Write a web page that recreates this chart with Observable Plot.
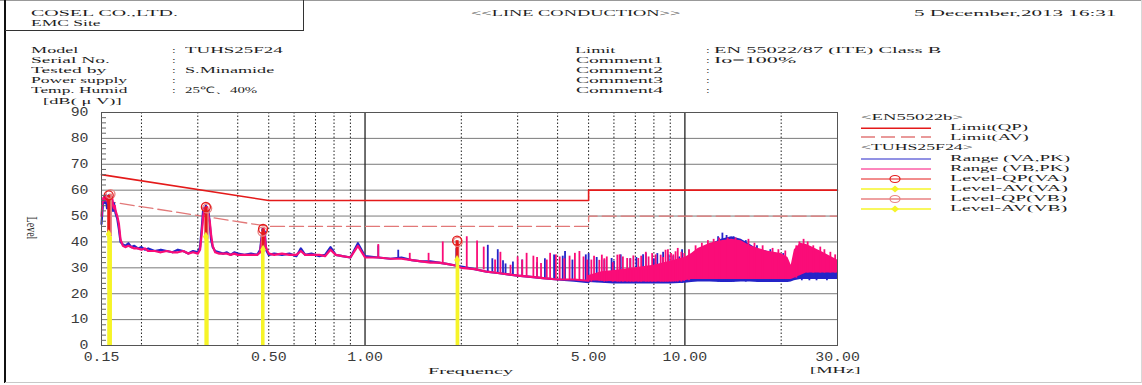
<!DOCTYPE html>
<html><head><meta charset="utf-8">
<script src="https://cdn.jsdelivr.net/npm/d3@7"></script>
<script src="https://cdn.jsdelivr.net/npm/@observablehq/plot@0.6"></script>
<style>
html,body{margin:0;padding:0;background:#fff;}
#page{position:relative;width:1142px;height:385px;overflow:hidden;background:#fff;}
#chart{position:absolute;left:0;top:0;}
.t{position:absolute;font-family:"Liberation Serif",serif;font-size:8.9px;line-height:8px;white-space:pre;color:#1e1e1e;transform-origin:0 0;}
#over{position:absolute;left:0;top:0;pointer-events:none;}
</style></head><body>
<div id="page"><div id="chart"></div></div>
<script>
// ---------- header / legend text ----------
const companyLines = ["COSEL CO.,LTD.", "EMC Site"];
const reportTitle = "<<LINE CONDUCTION>>";
const reportDate = "5 December,2013 16:31";
const metaLabels = ["Model", "Serial No.", "Tested by", "Power supply", "Temp. Humid"];
const metaValues = ["TUHS25F24", "", "S.Minamide", "", "25℃、40%"];
const commentLabels = ["Limit", "Comment1", "Comment2", "Comment3", "Comment4"];
const commentValues = ["EN 55022/87 (ITE) Class B", "Io=100%", "", "", ""];
const legendLabels = ["<EN55022b>", "Limit(QP)", "Limit(AV)", "<TUHS25F24>", "Range (VA,PK)", "Range (VB,PK)", "Level-QP(VA)", "Level-AV(VA)", "Level-QP(VB)", "Level-AV(VB)"];
const yUnit = "[dB( μ V)]";
const yTitle = "Level";
const xTitle = "Frequency";
const xUnit = "[MHz]";

// ---------- axes ----------
const yTicks = [0, 10, 20, 30, 40, 50, 60, 70, 80, 90];
const yGrid = [10, 20, 30, 40, 50, 60, 70, 80];
const yMinor = [2,4,6,8,12,14,16,18,22,24,26,28,32,34,36,38,42,44,46,48,52,54,56,58,62,64,66,68,72,74,76,78,82,84,86,88];
const xTicks = [0.15, 0.5, 1, 5, 10, 30];
const xGridDotted = [0.2, 0.3, 0.4, 0.5, 0.6, 0.7, 0.8, 0.9, 2, 3, 4, 5, 6, 7, 8, 9, 20];
const xGridSolid = [1, 10];

// ---------- limits (EN55022 class B) ----------
const limitFreq = [0.15, 0.5, 5, 5, 30];
const limitQP = [66, 56, 56, 60, 60];
const limitAV = [56, 46, 46, 50, 50];

// ---------- peak traces 0.15 - 5 MHz ----------
const traceFreq = [
 0.150,0.151,0.152,0.153,0.154,0.155,0.156,0.157,0.158,0.159,
 0.160,0.161,0.162,0.163,0.164,0.165,0.166,0.168,0.170,0.172,
 0.175,0.178,0.182,0.186,0.190,0.195,0.200,0.205,0.210,0.220,
 0.230,0.240,0.250,0.260,0.270,0.280,0.290,0.300,0.305,0.309,
 0.312,0.315,0.318,0.321,0.324,0.327,0.330,0.334,0.340,0.350,
 0.360,0.370,0.380,0.390,0.400,0.420,0.440,0.460,0.470,0.474,
 0.478,0.482,0.486,0.490,0.500,0.520,0.550,0.580,0.610,0.630,
 0.650,0.680,0.720,0.750,0.780,0.810,0.850,0.900,0.950,1.000,
 1.10,1.20,1.30,1.40,1.50,1.60,1.70,1.80,1.90,2.00,
 2.20,2.40,2.60,2.80,3.00,3.30,3.60,4.00,4.50,5.00];
const levelVA = [
 47,52,56,57.5,55,58,53,57,58,50,
 54,57.5,56,52,55,53,51,49,45,40,
 39,38.5,39.5,38,38.5,37.5,38,37,37.5,36.5,
 37,36.5,36,37,36.5,35.5,36.5,36,38,46,
 53,51,54,48,52,47,41,38,36.5,36,
 35.5,36,35,36,35.5,35,35.5,35,37,41,
 45,42,44,37,35,35.5,35,35.5,34.5,37.5,
 35,35.5,34.5,35,38,35,34.5,34,39.5,34.5,
 34,33.5,34,33,32.5,32.5,32,31.5,31,30.5,
 29.5,28.5,28,27.5,27,26.5,26,25.5,25,24.5];
const levelVB = [
 50,55,57,56,58,56,57.5,55,57,53,
 56,55,57,54,53,54,52,50,47,41,
 38.5,38,38.5,38,37.5,37.5,37,37.5,36.5,36.5,
 36,36.5,36,36,36.5,35.5,36,35.5,37,44,
 50,53,52,53.5,50,48,43,38.5,36,35.5,
 35.5,35.5,35,35.5,35,35,35,35,36,40,
 43,45,42,38,35.5,35,35.5,35,35,36.5,
 35,35,35,34.5,37,35,34.5,34,38.5,34,
 34,33.5,33.5,33,32.5,32,32,31.5,31,30,
 29.5,28.5,28,27.5,27,26.5,26,25.5,25.5,25];

// ---------- comb spikes ----------
const spikeFreqVA = [1.10,1.27,1.93,2.42,2.50,2.60,2.70,2.75,2.90,3.10,
 3.45,3.65,3.90,4.15,4.22,4.45,4.90,5.00,5.30,5.60,
 5.90,6.00,6.30,6.75,7.05,7.40,7.55,8.00,8.20,8.55,
 8.90,9.20,9.60,9.80,
 12.7,13.1,13.5,14.2,15.5,16.8,18.5,20.3,23.2,24.5,25.8,27.8];
const spikeTopVA = [38.5,36.8,37.4,38.7,33.5,37.0,32.7,31.5,32.3,33,
 32,33.5,35.0,34.5,36.3,33,35,35.5,34,33,
 33.6,32.5,35,33.5,34,35.1,35.5,33.5,35.5,36,
 35,34.5,34.2,37,
 42.0,43.4,42.5,42.0,40.5,38.5,37.0,35.5,33.0,33.5,32.5,32.0];
const spikeLowVA = [34,33.5,31,28.5,28.5,28,27.8,27.6,27.3,26.8,
 26.3,26,25.7,25.4,25.3,25.2,24.8,24.5,24.3,24.2,
 24,24,24,24,24,24,24,24,24,24,
 24,24,24,24,
 24.5,24.5,24.5,24.5,24.5,24.5,24.5,24.5,25,25,25,25];
const spikeFreqVB = [1.10,1.38,1.58,1.75,2.08,2.24,3.00,3.20,3.36,3.55,3.79,4.06,4.36,4.53,4.68,4.82,
 5.20,5.40,5.50,5.70,6.15,6.40,6.60,6.90,7.15,7.70,7.90,8.40,8.70,9.05,9.35,9.95,
 10.3,10.8,11.3,11.8,12.3,12.8,13.6,14.4,15.8,16.5,17.5,18.8,19.6,20.6,
 22.3,22.8,23.5,24.2,25.2,26.5,27.3,28.5,29.5,
 2.35,2.55,2.65,2.85,3.10,3.45,3.70,3.95,4.20,4.95,
 5.10,5.60,5.95,6.25,6.75,7.30,7.55,8.10,8.55,8.85,9.20,9.50,9.75];
const spikeTopVB = [39.0,35.6,35.6,40.0,42.0,40.4,34.2,35.6,34.5,31.7,35.6,34.2,34.5,35.6,36.3,34.2,
 34.5,32.9,34.9,34.2,34.9,34.2,33.6,34.6,33.6,34.2,35.5,34.9,36.8,35.5,36.2,35.5,
 37.0,38.5,39.5,40.5,41.0,41.5,41.5,41.5,41.0,39.5,38.5,37.5,37.0,36.5,
 38.5,40.0,41.0,40.0,38.5,38.0,37.0,36.0,35.0,
 38,33,36,31,33,34,33,35,33.5,33,
 33,33.5,32,35,33.5,34.5,36,35,34,37,35,37.5,36];
const spikeLowVB = [34,33,32.5,32,30,29.5,27,26.7,26.5,26.2,25.8,25.5,25.5,25.3,25.2,25.1,
 25,24.8,24.8,24.6,24.5,24.5,24.5,24.5,24.5,24.5,24.5,24.5,24.5,24.5,24.5,24.8,
 25,25.5,25.5,25.5,25.5,25.5,25.5,25.5,25.5,25.5,25.5,25.5,25.5,25.5,
 26,27,28,28,28,28,28,28,28,
 29.2,28.3,28,27.6,26.8,26.3,26,25.7,25.5,25,
 24.5,24.5,24.5,24.5,24.5,24.5,24.5,24.5,24.5,24.5,24.5,24.5,24.5];

// ---------- dense band 5 - 30 MHz ----------
const bandFreq   = [5.0,5.5,6.0,7.0,8.0,9.0,10.0,10.5,11.0,12.0,13.0,14.0,15.0,16.0,17.0,18.0,19.0,20.0,21.0,21.5,22.0,23.0,24.0,25.0,26.0,27.0,28.0,29.0,30.0];
const bandHighVB = [27,28.5,29,30,31,32.5,34,35.5,37.5,39.5,40.5,41,40.5,38.5,37.5,36.5,36,35.5,34,31,37,39.5,39,38,37,36,35,34,33];
const bandLowVB  = [25,24.8,24.6,24.5,24.5,24.5,25,25.5,25.5,25.5,25.5,25.5,25.5,25.5,25.5,25.5,25.5,25.5,25.5,25.5,26,27,28,28,28,28,28,28,28];
const bandHighVA = [26,27,27.5,28,29,30.5,32,34,36.5,39,41,42,41,39,37,36.5,35,34.5,33,30,32,33,32.5,32,31.5,31,31,30.5,30];
const bandLowVA  = [24.3,24,23.8,23.8,23.8,23.8,24,24.3,24.5,24.5,24.3,24.3,24.5,24.5,24.3,24.3,24.3,24.3,24.3,24.5,25,25.5,25.5,25.5,25.5,25.5,25.5,25.5,25.5];

// ---------- QP / AV measured levels ----------
const qpFreqVA = [0.158, 0.318, 0.480, 1.94];
const qpVA = [58, 53.5, 45, 40.5];
const avVA = [43, 42, 37, 33];
const qpFreqVB = [0.160, 0.321, 0.478, 1.95];
const qpVB = [58.5, 53, 44, 40];
const avVB = [42, 41, 36, 32];

// ---------- colours ----------
const cBlue = "#2424c8", cPink = "#fa0c78", cRed = "#e41a1a", cAV = "#e27878", cSalmon = "#e88282", cYellow = "#f6f428";

// ---------- tables ----------
const limitData = limitFreq.map((f, i) => ({f, qp: limitQP[i], av: limitAV[i]}));
const traceData = traceFreq.map((f, i) => ({f, va: levelVA[i], vb: levelVB[i]}));
const spikesVA = spikeFreqVA.map((f, i) => ({f, lo: spikeLowVA[i], hi: spikeTopVA[i]}));
const spikesVB = spikeFreqVB.map((f, i) => ({f, lo: spikeLowVB[i], hi: spikeTopVB[i]}));
const bandData = bandFreq.map((f, i) => ({f, loA: bandLowVA[i], hiA: bandHighVA[i], loB: bandLowVB[i], hiB: bandHighVB[i]}));
const lvA = qpFreqVA.map((f, i) => ({f, qp: qpVA[i], av: avVA[i]}));
const lvB = qpFreqVB.map((f, i) => ({f, qp: qpVB[i], av: avVB[i]}));

const chart = Plot.plot({
  width: 1142, height: 385,
  marginLeft: 101, marginRight: 305, marginTop: 112, marginBottom: 40,
  x: {type: "log", domain: [0.15, 30]},
  y: {domain: [0, 90]},
  style: {fontFamily: "Liberation Mono, monospace", fontSize: "12px", color: "#3a3a3a", background: "white"},
  marks: [
    Plot.ruleY(yGrid, {stroke: "#7a7a7a", strokeWidth: 1}),
    Plot.ruleX(xGridDotted, {stroke: "#222", strokeWidth: 1, strokeDasharray: "1.5,2"}),
    Plot.ruleX(xGridSolid, {stroke: "#222", strokeWidth: 1.3}),
    Plot.line(limitData, {x: "f", y: "qp", stroke: cRed, strokeWidth: 1.6}),
    Plot.line(limitData, {x: "f", y: "av", stroke: cAV, strokeWidth: 1.3, strokeDasharray: "14,5"}),
    Plot.areaY(bandData, {x: "f", y1: "loA", y2: "hiA", fill: cBlue}),
    Plot.line(traceData, {x: "f", y: "va", stroke: cBlue, strokeWidth: 2.2}),
    Plot.ruleX(spikesVA, {x: "f", y1: "lo", y2: "hi", stroke: cBlue, strokeWidth: 1.8}),
    Plot.areaY(bandData, {x: "f", y1: "loB", y2: "hiB", fill: cPink}),
    Plot.line(traceData, {x: "f", y: "vb", stroke: cPink, strokeWidth: 2.2}),
    Plot.ruleX(spikesVB, {x: "f", y1: "lo", y2: "hi", stroke: cPink, strokeWidth: 1.8}),
    Plot.ruleX(lvB, {x: "f", y1: "av", y2: "qp", stroke: cSalmon, strokeWidth: 3}),
    Plot.ruleX(lvA, {x: "f", y1: "av", y2: "qp", stroke: cRed, strokeWidth: 3}),
    Plot.ruleX(lvB, {x: "f", y1: 0, y2: "av", stroke: cYellow, strokeWidth: 3}),
    Plot.ruleX(lvA, {x: "f", y1: 0, y2: "av", stroke: cYellow, strokeWidth: 3}),
    Plot.dot(lvB, {x: "f", y: "qp", r: 4.5, stroke: cSalmon, strokeWidth: 1.3, fill: "none"}),
    Plot.dot(lvA, {x: "f", y: "qp", r: 4.5, stroke: cRed, strokeWidth: 1.3, fill: "none"}),
    Plot.dot(lvA, {x: "f", y: "av", r: 3, symbol: "diamond", fill: cYellow}),
    Plot.frame({stroke: "#555", strokeWidth: 1}),
    Plot.axisY({ticks: yTicks, tickSize: 0, tickPadding: 13, label: null}),
    Plot.axisY({ticks: yMinor, tickSize: 5, dx: 5, tickFormat: () => "", label: null, stroke: "#666"}),
    Plot.axisX({ticks: xTicks, tickSize: 0, tickPadding: 7, tickFormat: d => d.toFixed(2), label: null})
  ]
});
document.getElementById("chart").appendChild(chart);

// widen tick labels horizontally like the reference print
chart.querySelectorAll("text").forEach(t => {
  if (!t.textContent) return;
  const tr = t.getAttribute("transform");
  if (tr) t.setAttribute("transform", tr + " scale(1.24,1)");
  else {
    const x = +t.getAttribute("x") || 0, y = +t.getAttribute("y") || 0;
    t.setAttribute("transform", `translate(${x},${y}) scale(1.24,1) translate(${-x},${-y})`);
  }
});

// ---------- HTML text ----------
const page = document.getElementById("page");
function txt(s, left, cy, width) {
  const d = document.createElement("div");
  d.className = "t";
  d.textContent = s;
  d.style.left = left + "px";
  d.style.top = (cy - 4) + "px";
  page.appendChild(d);
  const w = d.offsetWidth;
  const sx = width ? width / w : 1.5;
  d.style.transform = `scaleX(${sx})`;
  return d;
}
txt(companyLines[0], 31, 12.5, 146);
txt(companyLines[1], 31, 22.5, 69);
txt(reportTitle, 471, 12.5, 209);
txt(reportDate, 914, 12.5, 202);
const rowY = [50, 59.9, 69.8, 79.7, 89.6];
const metaW = [47, 79, 75, 97, 96];
const metaVW = [98, 0, 90, 0, 72];
metaLabels.forEach((s, i) => {
  txt(s, 31, rowY[i], metaW[i]);
  txt(":", 172, rowY[i]);
  if (metaValues[i]) txt(metaValues[i], 185, rowY[i], metaVW[i]);
});
const comW = [41, 86, 86, 86, 86];
const comVW = [227, 82, 0, 0, 0];
commentLabels.forEach((s, i) => {
  txt(s, i === 0 ? 575 : 576, rowY[i], comW[i]);
  txt(":", 706, rowY[i]);
  if (commentValues[i]) txt(commentValues[i], 714, rowY[i], comVW[i]);
});
txt(yUnit, 43, 100.5, 79);
txt(xTitle, 428, 371, 84);
txt(xUnit, 810, 370, 50);
// rotated y title
{
  const d = document.createElement("div");
  d.className = "t"; d.textContent = yTitle;
  d.style.fontSize = "10px"; d.style.lineHeight = "10px";
  page.appendChild(d);
  const w = d.offsetWidth, h = d.offsetHeight;
  d.style.left = (31.5 - w / 2) + "px"; d.style.top = (228 - h / 2) + "px";
  d.style.transformOrigin = "50% 50%";
  d.style.transform = `rotate(90deg) scale(${23 / w}, 1.4)`;
}
const legY = [116.7, 126.6, 136.5, 146.9, 158.3, 168.2, 178.1, 188, 197.9, 207.8];
const legX = [861, 950, 950, 861, 950, 950, 950, 950, 950, 950];
const legW = [101, 78, 78, 112, 120, 120, 117, 117, 117, 117];
legendLabels.forEach((s, i) => txt(s, legX[i], legY[i], legW[i]));

// ---------- overlay: frame lines + legend samples ----------
const over = d3.select(page).append("svg").attr("id", "over").attr("width", 1142).attr("height", 385);
over.append("line").attr("x1", 0).attr("x2", 1142).attr("y1", 0.5).attr("y2", 0.5).attr("stroke", "#999");
over.append("line").attr("x1", 5).attr("x2", 5).attr("y1", 0).attr("y2", 383).attr("stroke", "#111").attr("stroke-width", 2);
over.append("line").attr("x1", 5).attr("x2", 303.5).attr("y1", 30.5).attr("y2", 30.5).attr("stroke", "#333");
over.append("line").attr("x1", 303.5).attr("x2", 303.5).attr("y1", 0).attr("y2", 31).attr("stroke", "#333");
over.append("line").attr("x1", 5).attr("x2", 1141).attr("y1", 382.5).attr("y2", 382.5).attr("stroke", "#c8c8c8");
over.append("line").attr("x1", 1141.5).attr("x2", 1141.5).attr("y1", 0).attr("y2", 383).attr("stroke", "#d8d8d8");
const samples = [
  {y: 128.3, c: cRed, w: 1.6},
  {y: 137, c: cAV, w: 1.3, dash: "14,6"},
  {y: 159, c: cBlue, w: 1},
  {y: 169, c: cPink, w: 1},
  {y: 179, c: cRed, w: 1, m: "o"},
  {y: 189, c: cYellow, w: 1.3, m: "d"},
  {y: 199, c: cSalmon, w: 1.3, m: "o"},
  {y: 209, c: cYellow, w: 1.3, m: "d"}
];
samples.forEach(s => {
  const l = over.append("line").attr("x1", 861).attr("x2", 931).attr("y1", s.y).attr("y2", s.y).attr("stroke", s.c).attr("stroke-width", s.w);
  if (s.dash) l.attr("stroke-dasharray", s.dash);
  if (s.m === "o") over.append("ellipse").attr("cx", 895).attr("cy", s.y).attr("rx", 5).attr("ry", 3.5).attr("fill", "none").attr("stroke", s.c).attr("stroke-width", 1.2);
  if (s.m === "d") over.append("path").attr("d", `M895,${s.y - 3.5}L899,${s.y}L895,${s.y + 3.5}L891,${s.y}Z`).attr("fill", s.c);
});
</script>
</body></html>
